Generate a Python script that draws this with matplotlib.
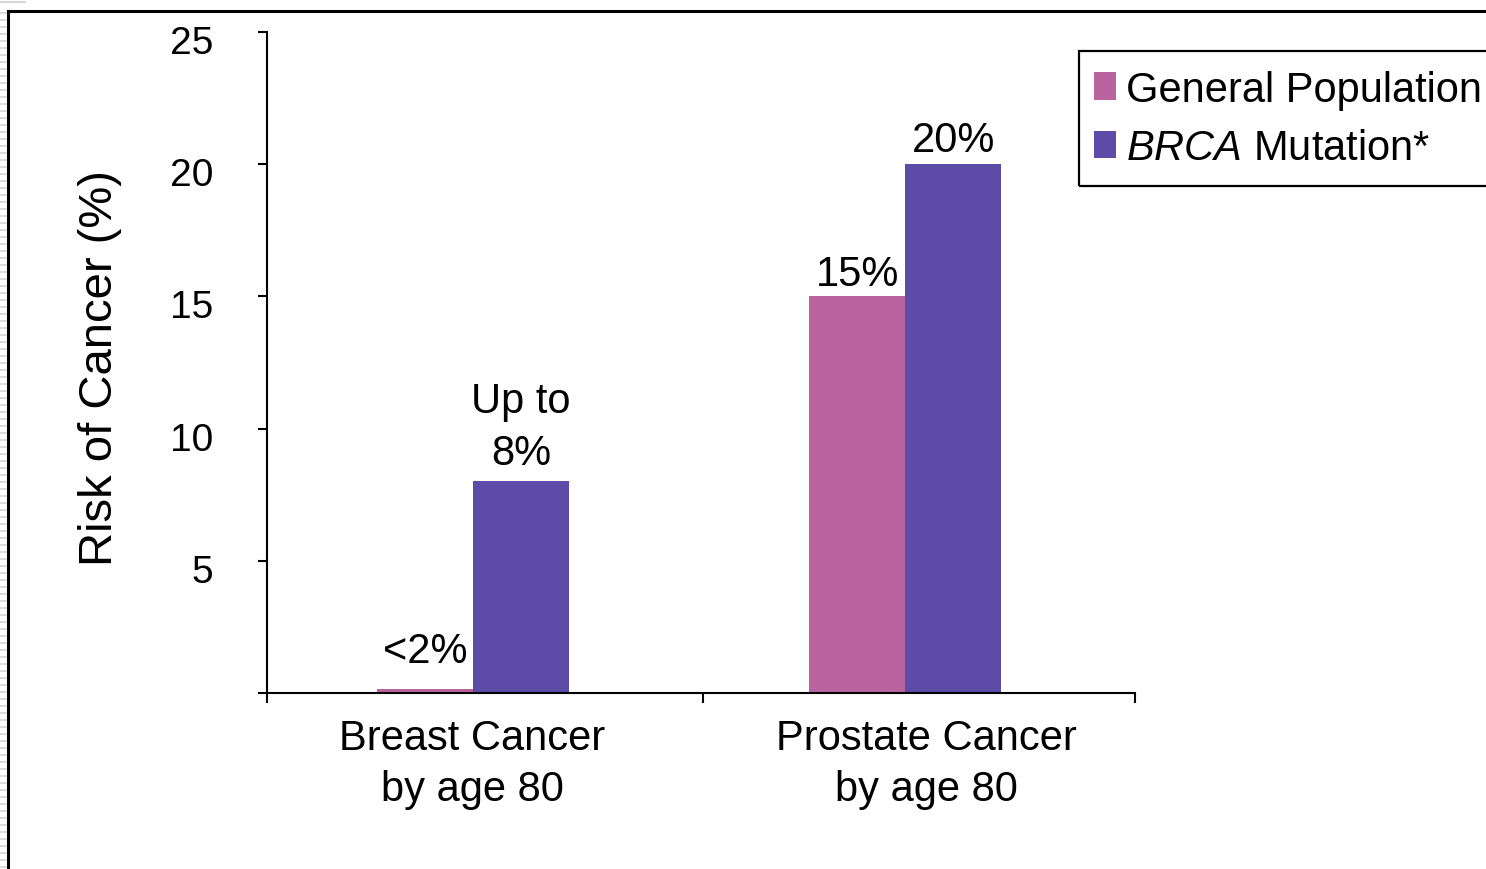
import matplotlib
matplotlib.use("Agg")
import matplotlib.pyplot as plt
import matplotlib.transforms as mtransforms
from matplotlib.patches import Patch, Rectangle
from matplotlib.lines import Line2D

plt.rcParams["font.family"] = ["Liberation Sans", "DejaVu Sans"]
plt.rcParams["mathtext.fontset"] = "custom"
plt.rcParams["mathtext.rm"] = "Liberation Sans"
plt.rcParams["mathtext.it"] = "Liberation Sans:italic"

# Data
categories = ["Breast Cancer\nby age 80", "Prostate Cancer\nby age 80"]
general_population = [0.15, 15]
brca_mutation = [8, 20]
general_labels = ["<2%", "15%"]
brca_labels = ["Up to\n8%", "20%"]
y_ticks = [0, 5, 10, 15, 20, 25]
y_tick_labels = ["", "5", "10", "15", "20", "25"]
legend_labels = ["General Population", r"$\it{BRCA}$ Mutation*"]

pink = "#B9649E"
purple = "#5C4CA8"

W, H = 1486, 870
fig = plt.figure(figsize=(W / 100, H / 100), dpi=100)
ax = fig.add_axes([267 / W, 1 - 694 / H, (1135 - 267) / W, (694 - 33) / H])

x = list(range(len(categories)))
width = 0.222
bars_g = ax.bar([i - width / 2 for i in x], general_population, width, color=pink, zorder=2)
bars_b = ax.bar([i + width / 2 for i in x], brca_mutation, width, color=purple, zorder=2)

ax.set_xlim(-0.477, 1.532)
ax.set_ylim(0, 25)

# value labels above the bars
g_offsets = [13, 1.5]
b_offsets = [6, 3]
for rect, lab, off in zip(bars_g, general_labels, g_offsets):
    ax.annotate(lab, (rect.get_x() + rect.get_width() / 2, rect.get_height()),
                xytext=(0, off), textcoords="offset points",
                ha="center", va="bottom", fontsize=30)
for rect, lab, off in zip(bars_b, brca_labels, b_offsets):
    ax.annotate(lab, (rect.get_x() + rect.get_width() / 2, rect.get_height()),
                xytext=(0, off), textcoords="offset points",
                ha="center", va="bottom", fontsize=30, linespacing=1.38)

# axes styling
for s in ["top", "right"]:
    ax.spines[s].set_visible(False)
for s in ["left", "bottom"]:
    ax.spines[s].set_linewidth(1.5)

ax.set_yticks(y_ticks)
ax.set_yticklabels(y_tick_labels, fontsize=28)
ax.tick_params(axis="y", direction="out", length=6.5, width=1.5, pad=32)
shift_down = mtransforms.ScaledTranslation(0, -7 / 100, fig.dpi_scale_trans)
for lbl in ax.get_yticklabels():
    lbl.set_transform(lbl.get_transform() + shift_down)

ax.set_xticks([-0.002, 1.05])
ax.set_xticklabels(categories, fontsize=30, linespacing=1.34)
ax.tick_params(axis="x", which="major", length=0, pad=18)
x0, x1 = ax.get_xlim()
ax.set_xticks([x0, (x0 + x1) / 2 + 0.004, x1], minor=True)
ax.tick_params(axis="x", which="minor", direction="out", length=7, width=1.5)

fig.text(100 / W, 1 - 368 / H, "Risk of Cancer (%)", rotation=90,
         ha="center", va="center", fontsize=34)

# legend with a separate square frame
handles = [Patch(facecolor=pink, edgecolor="none"),
           Patch(facecolor=purple, edgecolor="none")]
leg = fig.legend(handles, legend_labels,
                 loc="upper left", bbox_to_anchor=(1079 / W, 1 - 56 / H),
                 fontsize=30, frameon=False, borderaxespad=0,
                 handlelength=0.53, handleheight=0.64, handletextpad=0.25,
                 borderpad=0.35, labelspacing=0.44)
fig.add_artist(Rectangle((1079 / W, 1 - 187 / H), (1500 - 1079) / W, (187 - 52) / H,
                         transform=fig.transFigure, fill=False,
                         edgecolor="black", lw=1.6))

# outer frame
fig.add_artist(Line2D([8 / W, 1.0], [1 - 12 / H, 1 - 12 / H], color="black", lw=2.2,
                      transform=fig.transFigure))
fig.add_artist(Line2D([8 / W, 8 / W], [0, 1 - 12 / H], color="black", lw=2.2,
                      transform=fig.transFigure))

# faint striped edge on the far left
fig.add_artist(Line2D([0, 25 / W], [1 - 3 / H, 1 - 3 / H], color="#d8d8d8", lw=1.5,
                      transform=fig.transFigure))
yy = 14
while yy < H:
    fig.add_artist(Line2D([0, 6 / W], [1 - yy / H, 1 - yy / H], color="#d4d4d4", lw=1.2,
                          transform=fig.transFigure))
    yy += 7

fig.savefig("out.png", dpi=100)
